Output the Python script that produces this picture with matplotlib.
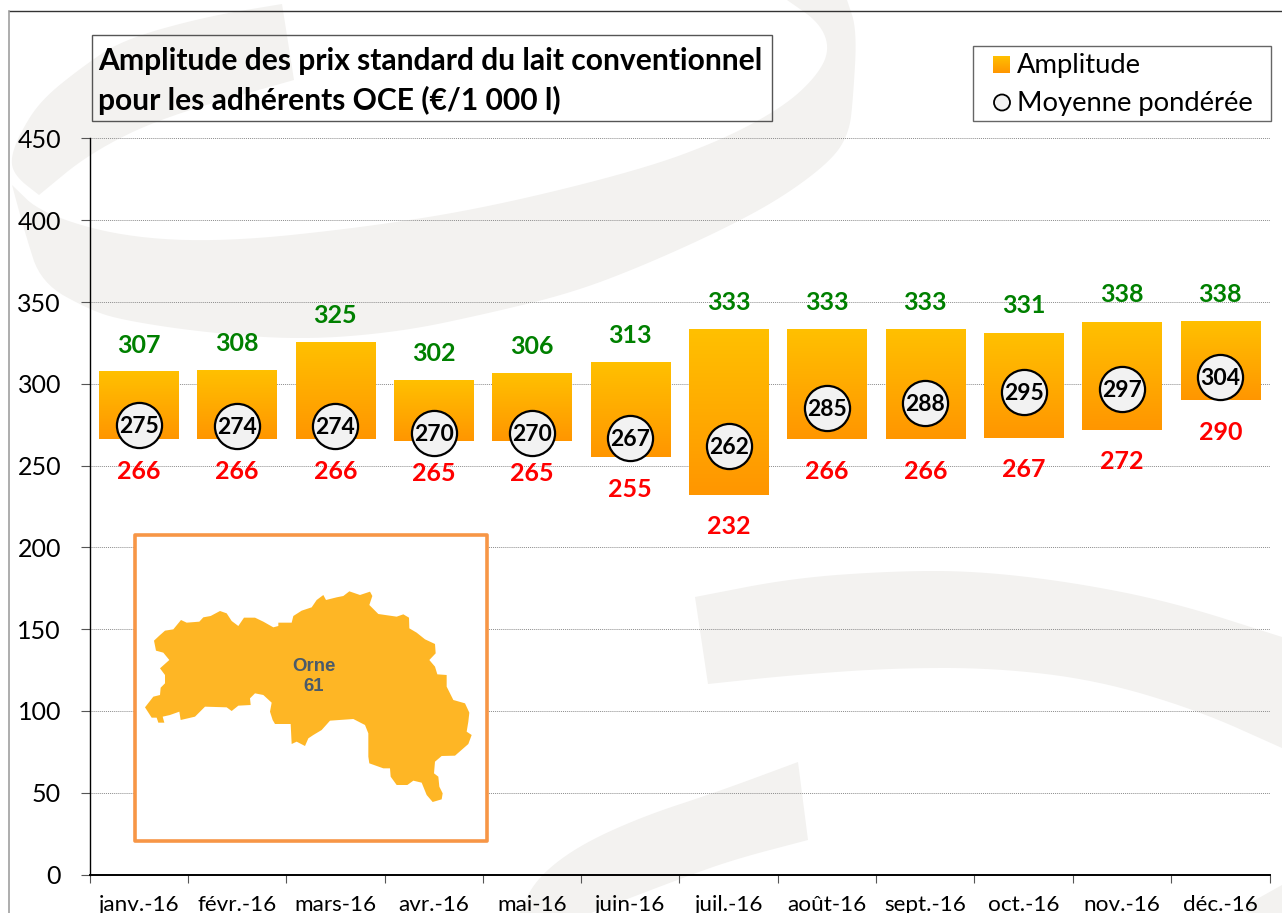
import numpy as np
import matplotlib
matplotlib.use("Agg")
import matplotlib.pyplot as plt
from matplotlib.colors import LinearSegmentedColormap
from matplotlib.patches import Polygon, Rectangle, Circle

plt.rcParams['font.family'] = ['Lato', 'DejaVu Sans']

# donnees
mois = ['janv.-16', 'févr.-16', 'mars-16', 'avr.-16', 'mai-16', 'juin-16',
        'juil.-16', 'août-16', 'sept.-16', 'oct.-16', 'nov.-16', 'déc.-16']
prix_max = [307, 308, 325, 302, 306, 313, 333, 333, 333, 331, 338, 338]
prix_min = [266, 266, 266, 265, 265, 255, 232, 266, 266, 267, 272, 290]
moyenne = [275, 274, 274, 270, 270, 267, 262, 285, 288, 295, 297, 304]
yticks = [0, 50, 100, 150, 200, 250, 300, 350, 400, 450]

titre = 'Amplitude des prix standard du lait conventionnel\npour les adhérents OCE (€/1 000 l)'

# decor de fond, en pixels de l'image : chaque forme = morceaux de courbe
swirl_a = [[(294, 80), (163, 117), (90, 153), (39, 195)],
           [(39, 195), (16, 177), (10, 160), (20, 133), (41, 100), (82, 67), (122, 40), (204, 17), (282, 4)]]
swirl_b = [[(12, 185), (41, 213), (122, 237), (225, 242), (367, 227), (490, 207), (640, 170), (722, 140), (783, 107),
            (816, 77), (830, 50), (820, 23), (787, 0)],
           [(847, 0), (857, 30), (853, 100), (849, 133), (832, 160), (783, 197), (722, 230), (640, 267), (571, 293),
            (490, 313), (400, 332), (300, 340), (200, 332), (122, 320), (90, 310), (41, 283), (25, 233), (12, 185)]]
swirl_c = [[(695, 597), (793, 578), (894, 571), (975, 571), (1071, 582), (1172, 602), (1282, 637)],
           [(1282, 748), (1197, 710), (1096, 680), (995, 668), (894, 668), (793, 675), (708, 684)]]
swirl_d = [[(798, 762), (808, 840)],
           [(808, 840), (732, 860), (677, 880), (591, 913)],
           [(520, 913), (535, 880), (576, 847), (641, 817), (717, 792), (798, 762)]]
swirl_e = [[(1282, 885), (1232, 913), (1282, 913)]]

# contour de l'Orne
orne = [(75, 562), (100, 530), (120, 525), (122, 503), (135, 490), (135, 465), (120, 445), (148, 420), (130, 398),
        (108, 392), (102, 362), (118, 347), (135, 332), (160, 328), (183, 300), (200, 308), (238, 305), (250, 292),
        (272, 288), (300, 273), (320, 280), (335, 303), (355, 318), (372, 293), (405, 293), (430, 305), (460, 322),
        (475, 318), (475, 308), (515, 308), (520, 288), (545, 272), (575, 262), (590, 240), (610, 225), (618, 240),
        (650, 232), (670, 228), (688, 214), (720, 225), (750, 215), (757, 228), (748, 255), (775, 282), (830, 290),
        (850, 283), (867, 293), (868, 325), (890, 338), (915, 358), (945, 372), (947, 400), (928, 420), (945, 440),
        (952, 463), (980, 465), (980, 500), (990, 520), (1000, 540), (1035, 550), (1048, 578), (1045, 605), (1040, 635),
        (1055, 645), (1045, 672), (1005, 707), (965, 708), (945, 725), (942, 760), (955, 770), (958, 800), (968, 820),
        (965, 838), (938, 846), (920, 825), (905, 788), (880, 782), (862, 795), (830, 795), (812, 770), (810, 745),
        (790, 745), (748, 730), (745, 710), (745, 640), (735, 615), (700, 597), (630, 602), (605, 630), (580, 645),
        (565, 655), (555, 678), (530, 665), (515, 672), (512, 612), (465, 612), (458, 600), (450, 575), (455, 548),
        (430, 525), (405, 520), (390, 535), (392, 555), (355, 557), (335, 573), (320, 562), (255, 560), (225, 590),
        (182, 600), (178, 575), (150, 585), (128, 590), (133, 608), (115, 608), (110, 593), (95, 593)]


def lisse(morceaux):
    # arrondit chaque morceau (coupe des coins), les bouts restent en place
    sortie = []
    for m in morceaux:
        p = np.array(m, dtype=float)
        for _ in range(3):
            q = [p[0]]
            for a, b in zip(p[:-1], p[1:]):
                q.append(0.75 * a + 0.25 * b)
                q.append(0.25 * a + 0.75 * b)
            q.append(p[-1])
            p = np.array(q)
        sortie.extend(p.tolist())
    return sortie


W, H = 1282, 913
fig = plt.figure(figsize=(W / 100, H / 100), dpi=100, facecolor='white')

# fond
bg = fig.add_axes([0, 0, 1, 1], zorder=0)
bg.set_xlim(0, W)
bg.set_ylim(H, 0)
bg.axis('off')
for s in [swirl_a, swirl_b, swirl_c, swirl_d, swirl_e]:
    bg.add_patch(Polygon(lisse(s), closed=True, fc='#f3f2f0', ec='none'))
bg.plot([8.5, W], [11.5, 11.5], color='#333333', lw=1)
bg.plot([8.5, 8.5], [11.5, H], color='#a0a0a0', lw=1.2)

# graphique
ax = fig.add_axes([89.5 / W, 1 - 874.5 / H, 1180 / W, 736 / H], zorder=1)
ax.patch.set_alpha(0)
x = np.arange(len(mois))
bas = np.array(prix_min)
haut = np.array(prix_max)

degrade = LinearSegmentedColormap.from_list('amp', ['#ffc000', '#ff9600'])
grad = np.linspace(0, 1, 64).reshape(-1, 1)
largeur = 0.81
barres = ax.bar(x, haut - bas, bottom=bas, width=largeur, color='#ffac00', zorder=2)
for b in barres:
    ax.imshow(grad, cmap=degrade, aspect='auto', zorder=2.1,
              extent=[b.get_x(), b.get_x() + b.get_width(), b.get_y(), b.get_y() + b.get_height()])

ax.plot(x, moyenne, linestyle='none', marker='o', ms=32.5, mfc='#f2f2f2', mec='black', mew=1.6, zorder=3)

for i in x:
    ax.annotate(str(prix_max[i]), (i, prix_max[i]), xytext=(0, 19.6), textcoords='offset points', ha='center',
                va='center', color='#008000', fontsize=18, fontweight='bold', zorder=4)
    ax.annotate(str(prix_min[i]), (i, prix_min[i]), xytext=(0, -23), textcoords='offset points', ha='center',
                va='center', color='#ff0000', fontsize=18, fontweight='bold', zorder=4)
    ax.annotate(str(moyenne[i]), (i, moyenne[i]), xytext=(0, -1), textcoords='offset points', ha='center',
                va='center', color='black', fontsize=16.5, fontweight='bold', zorder=4)

ax.set_xlim(-0.5, len(mois) - 0.5)
ax.set_ylim(0, 450)
ax.set_yticks(yticks)
ax.set_xticks(x)
ax.set_xticklabels(mois)
ax.set_xticks(np.arange(len(mois) + 1) - 0.5, minor=True)
ax.tick_params(axis='x', which='major', length=0, pad=15, labelsize=16.2)
ax.tick_params(axis='x', which='minor', length=6, width=0.8, color='#555555')
ax.tick_params(axis='y', length=6.5, width=0.8, color='#555555', labelsize=18, pad=14)
ax.yaxis.grid(True, color='#8c8c8c', linestyle=(0, (1, 1)), linewidth=0.7)
ax.set_axisbelow(True)
ax.spines['top'].set_visible(False)
ax.spines['right'].set_visible(False)
ax.spines['left'].set_linewidth(1)
ax.spines['bottom'].set_linewidth(1.4)

# boites par dessus
top = fig.add_axes([0, 0, 1, 1], zorder=2)
top.patch.set_alpha(0)
top.set_xlim(0, W)
top.set_ylim(H, 0)
top.axis('off')

top.add_patch(Rectangle((91.5, 35.5), 680, 86, fc='none', ec='#555555', lw=1))
top.text(98.5, 81, titre, ha='left', va='center', fontsize=21.6, fontweight='bold', color='black', linespacing=1.44)

top.add_patch(Rectangle((972.5, 46), 298.5, 75, fc='none', ec='#666666', lw=1))
top.imshow(grad, cmap=degrade, aspect='auto', extent=[993, 1010, 73, 56])
top.set_xlim(0, W)
top.set_ylim(H, 0)
top.add_patch(Circle((1002, 102.5), 8, fc='#f2f2f2', ec='black', lw=1.3))
top.text(1017, 65, 'Amplitude', ha='left', va='center', fontsize=19.7, color='black')
top.text(1017, 104, 'Moyenne pondérée', ha='left', va='center', fontsize=19.7, color='black')

# encart carte
top.add_patch(Rectangle((134.5, 535.5), 352, 306, fc='white', ec='#f79646', lw=2.6, joinstyle='round'))
carte = [(120 + px / 3, 520 + py / 3) for px, py in orne]
top.add_patch(Polygon(carte, closed=True, fc='#feb625', ec='none'))
top.text(313.5, 676.5, 'Orne\n61', ha='center', va='center', fontsize=13.4, fontweight='bold', color='#4a5a6a',
         family='Liberation Sans', linespacing=1.25)

fig.savefig('out.png', dpi=100)
